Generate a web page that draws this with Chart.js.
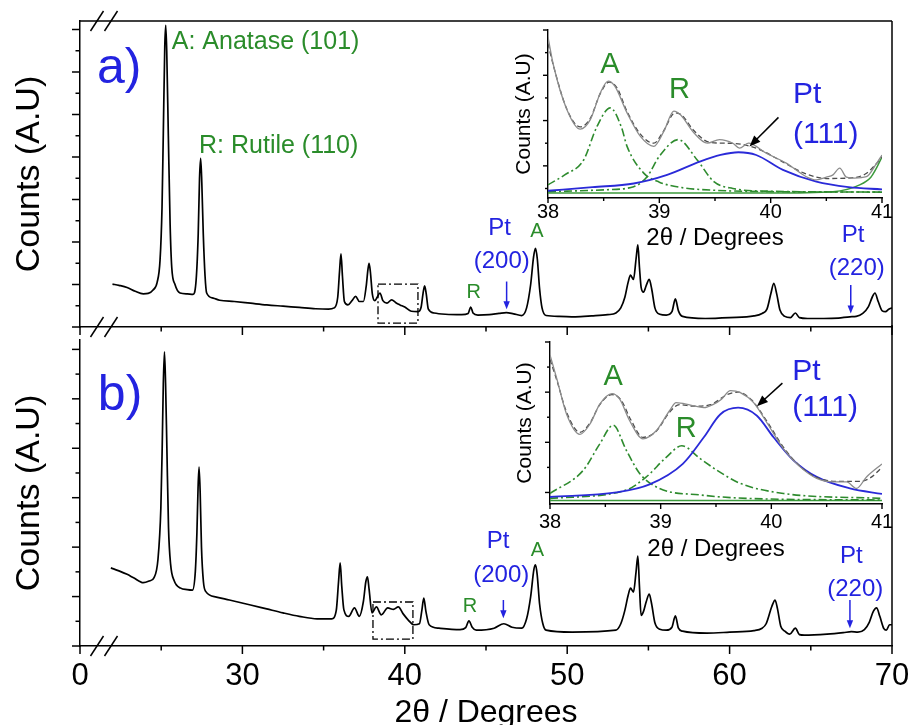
<!DOCTYPE html>
<html>
<head>
<meta charset="utf-8">
<script src="https://cdn.jsdelivr.net/npm/chart.js@4.4.1/dist/chart.umd.min.js"></script>
<style>
  body { margin: 0; background: #fff; }
  #wrap { position: relative; width: 918px; height: 725px; background: #fff; overflow: hidden; }
  #wrap canvas { position: absolute; }
</style>
</head>
<body>
<div id="wrap">
  <canvas id="mainA" width="918" height="345" style="left:0;top:0"></canvas>
  <canvas id="mainB" width="918" height="410" style="left:0;top:325px"></canvas>
  <canvas id="insetA" width="410" height="235" style="left:490px;top:22px"></canvas>
  <canvas id="insetB" width="410" height="235" style="left:490px;top:335px"></canvas>
</div>
<script>
const FONT = "'Liberation Sans', Arial, sans-serif";
const BLUE = '#2323e0';
const GREEN = '#2a8c2a';

// ---- tick values / labels
const mainMajorX = [20, 30, 40, 50, 60, 70];
const mainXTickLabels = ['0', '30', '40', '50', '60', '70'];
const mainMinorX = [25, 35, 45, 55, 65];
const mainMajorYA = [0, 1, 2, 3, 4, 5, 6, 7];
const mainMinorYA = [0.5, 1.5, 2.5, 3.5, 4.5, 5.5, 6.5];
const mainMajorYB = [0, 1, 2, 3, 4, 5, 6];
const mainMinorYB = [0.5, 1.5, 2.5, 3.5, 4.5, 5.5];
const insetMajorX = [38, 39, 40, 41];
const insetMinorX = [38.5, 39.5, 40.5];
const insetMajorY = [0, 1, 2, 3];
const insetMinorYA = [-0.5, 0.5, 1.5, 2.5];
const insetMinorYB = [0.5, 1.5, 2.5];

// ---- XRD pattern a)  [2theta, counts]
const patternA = [
  [22.0,1.01],[22.4,0.98],[22.9,0.93],[23.4,0.84],[23.9,0.78],[24.2,0.79],[24.5,0.87],[24.75,1.05],
  [24.93,1.58],[25.05,2.8],[25.13,4.56],[25.22,6.6],[25.28,7.1],[25.34,6.5],[25.44,4.5],[25.55,2.4],
  [25.65,1.4],[25.85,1.0],[26.16,0.8],[26.6,0.78],[26.96,0.77],[27.15,1.1],[27.28,2.2],[27.36,3.5],
  [27.43,3.97],[27.5,3.4],[27.59,2.2],[27.7,1.2],[27.8,0.8],[28.2,0.68],[28.6,0.63],[29.5,0.6],
  [30.5,0.56],[31.5,0.52],[32.5,0.49],[33.5,0.46],[34.5,0.43],[35.3,0.42],[35.65,0.45],[35.87,0.7],
  [35.98,1.3],[36.07,1.72],[36.16,1.2],[36.28,0.6],[36.5,0.52],[36.75,0.62],[36.97,0.72],[37.2,0.6],
  [37.45,0.6],[37.62,0.95],[37.73,1.35],[37.8,1.5],[37.88,1.3],[38.0,0.78],[38.15,0.62],[38.3,0.7],
  [38.47,0.8],[38.65,0.62],[38.9,0.56],[39.19,0.64],[39.45,0.57],[39.7,0.52],[40.0,0.47],[40.4,0.37],
  [40.8,0.36],[41.0,0.46],[41.12,0.78],[41.22,0.97],[41.32,0.78],[41.45,0.42],[41.8,0.33],[42.5,0.3],
  [43.5,0.29],[43.9,0.32],[44.06,0.47],[44.2,0.33],[44.5,0.28],[45.2,0.29],[45.8,0.32],[46.25,0.34],
  [46.7,0.31],[47.2,0.27],[47.5,0.45],[47.75,1.0],[47.93,1.65],[48.05,1.85],[48.16,1.6],[48.3,0.9],
  [48.45,0.45],[48.7,0.27],[49.5,0.25],[50.5,0.24],[51.5,0.26],[52.5,0.29],[53.0,0.33],[53.3,0.45],
  [53.55,0.7],[53.75,1.05],[53.9,1.22],[54.08,1.12],[54.24,1.6],[54.35,1.93],[54.45,1.4],[54.55,0.94],
  [54.7,0.82],[54.87,0.98],[55.05,1.12],[55.2,0.9],[55.4,0.45],[55.7,0.3],[56.1,0.28],[56.45,0.36],
  [56.66,0.66],[56.85,0.38],[57.1,0.25],[58.5,0.2],[60.0,0.22],[61.5,0.26],[62.0,0.32],[62.3,0.42],
  [62.55,0.8],[62.72,1.03],[62.9,0.78],[63.1,0.4],[63.4,0.25],[63.75,0.22],[64.05,0.33],[64.3,0.22],
  [64.8,0.2],[65.8,0.2],[66.7,0.21],[67.4,0.24],[67.8,0.25],[68.2,0.32],[68.55,0.48],[68.78,0.7],
  [68.95,0.8],[69.15,0.6],[69.4,0.38],[69.6,0.36],[69.8,0.42],[70.0,0.45]
];

// ---- XRD pattern b)
const patternB = [
  [21.9,1.58],[22.4,1.52],[22.9,1.45],[23.3,1.38],[23.9,1.28],[24.3,1.32],[24.55,1.38],[24.8,1.75],
  [24.98,2.8],[25.06,4.0],[25.13,5.3],[25.2,5.95],[25.27,5.3],[25.35,4.0],[25.45,2.4],[25.58,1.65],
  [25.8,1.32],[26.2,1.17],[26.6,1.14],[26.92,1.13],[27.1,1.5],[27.2,2.3],[27.27,3.2],[27.33,3.62],
  [27.4,3.1],[27.48,2.0],[27.6,1.3],[27.75,1.1],[28.4,0.99],[29.2,0.93],[30.5,0.83],[31.5,0.75],
  [32.5,0.67],[33.5,0.6],[34.6,0.55],[35.5,0.55],[35.78,0.72],[35.92,1.3],[36.02,1.68],[36.12,1.2],
  [36.25,0.73],[36.55,0.6],[36.9,0.77],[37.2,0.6],[37.45,0.9],[37.6,1.3],[37.7,1.4],[37.8,1.15],
  [37.98,0.67],[38.25,0.79],[38.55,0.63],[38.95,0.77],[39.3,0.74],[39.6,0.79],[39.9,0.65],[40.2,0.53],
  [40.55,0.43],[40.9,0.45],[41.05,0.72],[41.17,0.97],[41.3,0.7],[41.5,0.43],[42.1,0.36],[43.4,0.33],
  [43.75,0.37],[43.95,0.51],[44.15,0.38],[44.4,0.32],[45.5,0.36],[46.1,0.45],[46.6,0.38],[47.2,0.36],
  [47.5,0.55],[47.75,1.0],[47.95,1.55],[48.05,1.64],[48.15,1.45],[48.3,0.85],[48.5,0.45],[48.7,0.32],
  [50.3,0.28],[53.0,0.32],[53.3,0.45],[53.55,0.72],[53.75,1.02],[53.9,1.17],[54.08,1.09],[54.24,1.5],
  [54.35,1.82],[54.45,1.2],[54.55,0.62],[54.7,0.7],[54.87,0.9],[55.05,1.05],[55.2,0.85],[55.4,0.47],
  [55.7,0.34],[56.1,0.32],[56.45,0.38],[56.66,0.61],[56.85,0.36],[57.1,0.3],[58.6,0.26],[60.0,0.28],
  [61.5,0.31],[62.0,0.36],[62.25,0.45],[62.6,0.8],[62.8,0.93],[62.95,0.75],[63.15,0.4],[63.4,0.3],
  [63.7,0.24],[64.05,0.36],[64.3,0.23],[64.6,0.22],[66.0,0.24],[67.0,0.27],[67.5,0.29],[67.9,0.28],
  [68.3,0.33],[68.6,0.48],[68.85,0.7],[69.05,0.77],[69.25,0.6],[69.5,0.35],[69.65,0.32],[69.85,0.43],
  [70.0,0.43]
];

// ---- inset a) 38-41 deg fit
const insetAMeas = [
  [38.0,2.84],[38.05,2.21],[38.17,1.24],[38.29,0.81],[38.38,1.02],[38.47,1.61],[38.54,1.87],[38.6,1.76],
  [38.71,1.17],[38.83,0.65],[38.95,0.43],[39.04,0.76],[39.13,1.21],[39.19,1.13],[39.31,0.73],[39.43,0.5],
  [39.54,0.58],[39.66,0.5],[39.72,0.39],[39.8,0.5],[39.96,0.28],[40.14,0.06],[40.32,-0.24],[40.41,-0.31],
  [40.5,-0.25],[40.56,-0.2],[40.62,-0.05],[40.68,-0.25],[40.75,-0.27],[40.86,-0.24],[40.95,0.05],[41.0,0.24]
];
const insetAFit = [
  [38.0,2.7],[38.05,2.2],[38.17,1.25],[38.29,0.86],[38.38,1.05],[38.47,1.6],[38.55,1.85],[38.62,1.72],
  [38.71,1.2],[38.83,0.7],[38.95,0.5],[39.04,0.78],[39.14,1.17],[39.2,1.12],[39.31,0.78],[39.45,0.52],
  [39.6,0.5],[39.75,0.47],[39.9,0.36],[40.1,0.1],[40.3,-0.16],[40.5,-0.28],[40.7,-0.27],[40.85,-0.18],
  [40.95,0.05],[41.0,0.2]
];
const insetAAnatase = [
  [38.0,-0.42],[38.15,-0.2],[38.32,0.13],[38.44,0.87],[38.56,1.28],[38.66,0.85],[38.71,0.43],[38.86,-0.16],
  [39.0,-0.36],[39.2,-0.48],[39.5,-0.54],[40.0,-0.57],[41.0,-0.58]
];
const insetARutile = [
  [38.0,-0.57],[38.5,-0.53],[38.77,-0.46],[38.89,-0.24],[39.0,0.21],[39.17,0.58],[39.34,0.13],[39.49,-0.35],
  [39.66,-0.5],[40.0,-0.56],[41.0,-0.58]
];
const insetAPt = [
  [38.0,-0.55],[38.4,-0.47],[38.77,-0.39],[39.07,-0.2],[39.37,0.1],[39.55,0.24],[39.71,0.3],[39.87,0.24],
  [40.11,-0.09],[40.41,-0.35],[40.7,-0.47],[41.0,-0.52]
];
const insetABase = [
  [38.0,-0.6],[39.0,-0.6],[40.0,-0.6],[40.56,-0.57],[40.8,-0.42],[40.9,-0.25],[40.95,-0.05],[41.0,0.2]
];

// ---- inset b)
const insetBMeas = [
  [38.0,2.74],[38.06,2.28],[38.15,1.56],[38.27,1.16],[38.36,1.36],[38.45,1.76],[38.56,1.97],[38.63,1.86],
  [38.72,1.43],[38.84,1.07],[38.96,1.23],[39.08,1.63],[39.14,1.79],[39.27,1.74],[39.39,1.69],[39.48,1.76],
  [39.55,1.86],[39.63,2.03],[39.72,1.99],[39.84,1.79],[39.96,1.39],[40.11,0.87],[40.26,0.51],[40.41,0.28],
  [40.56,0.21],[40.68,0.21],[40.77,0.08],[40.86,0.31],[41.0,0.57]
];
const insetBFit = [
  [38.0,2.65],[38.06,2.25],[38.15,1.6],[38.27,1.2],[38.36,1.38],[38.45,1.75],[38.56,1.95],[38.64,1.85],
  [38.73,1.45],[38.84,1.1],[38.96,1.22],[39.08,1.6],[39.17,1.75],[39.3,1.72],[39.45,1.75],[39.6,1.95],
  [39.7,2.0],[39.82,1.85],[39.96,1.42],[40.11,0.9],[40.26,0.52],[40.41,0.3],[40.6,0.22],[40.8,0.22],
  [40.9,0.3],[41.0,0.5]
];
const insetBAnatase = [
  [38.0,-0.02],[38.3,0.44],[38.45,0.97],[38.57,1.34],[38.69,0.84],[38.81,0.38],[38.99,0.08],[39.36,-0.05],
  [39.8,-0.12],[41.0,-0.15]
];
const insetBRutile = [
  [38.0,-0.12],[38.69,0.05],[38.87,0.31],[39.05,0.7],[39.19,0.93],[39.36,0.67],[39.51,0.44],[39.72,0.18],
  [40.11,-0.02],[41.0,-0.12]
];
const insetBPt = [
  [38.0,-0.09],[38.6,0.0],[38.9,0.16],[39.2,0.57],[39.39,1.1],[39.54,1.56],[39.7,1.69],[39.87,1.53],
  [40.02,1.1],[40.2,0.64],[40.41,0.31],[40.71,0.08],[41.0,-0.03]
];
const insetBBase = [[38.0,-0.16],[41.0,-0.16]];

// ---- annotations (data coordinates)
const labelsA = [
  { text: 'a)', x: 21.05, y: 5.74, size: 50, color: BLUE, align: 'left' },
  { text: 'A: Anatase (101)', x: 25.65, y: 6.53, size: 25, color: GREEN, align: 'left' },
  { text: 'R: Rutile (110)', x: 27.33, y: 4.09, size: 25, color: GREEN, align: 'left' },
  { text: 'R', x: 44.24, y: 0.68, size: 20, color: GREEN, align: 'center' },
  { text: 'Pt', x: 45.84, y: 2.16, size: 24, color: BLUE, align: 'center' },
  { text: '(200)', x: 45.97, y: 1.38, size: 24, color: BLUE, align: 'center' },
  { text: 'A', x: 48.14, y: 2.12, size: 20, color: GREEN, align: 'center' },
  { text: 'Pt', x: 67.6, y: 2.01, size: 24, color: BLUE, align: 'center' },
  { text: '(220)', x: 67.83, y: 1.22, size: 24, color: BLUE, align: 'center' }
];
const arrowsA = [
  { x1: 46.27, y1: 1.07, x2: 46.27, y2: 0.42, color: BLUE },
  { x1: 67.46, y1: 0.99, x2: 67.46, y2: 0.32, color: BLUE }
];
const boxA = { x1: 38.35, x2: 40.81, y1: 0.09, y2: 1.01 };

const labelsB = [
  { text: 'b)', x: 21.1, y: 4.78, size: 50, color: BLUE, align: 'left' },
  { text: 'R', x: 44.01, y: 0.69, size: 20, color: GREEN, align: 'center' },
  { text: 'Pt', x: 45.74, y: 1.98, size: 24, color: BLUE, align: 'center' },
  { text: '(200)', x: 45.94, y: 1.3, size: 24, color: BLUE, align: 'center' },
  { text: 'A', x: 48.16, y: 1.82, size: 20, color: GREEN, align: 'center' },
  { text: 'Pt', x: 67.5, y: 1.67, size: 24, color: BLUE, align: 'center' },
  { text: '(220)', x: 67.74, y: 1.02, size: 24, color: BLUE, align: 'center' }
];
const arrowsB = [
  { x1: 46.07, y1: 0.93, x2: 46.07, y2: 0.56, color: BLUE },
  { x1: 67.41, y1: 0.93, x2: 67.41, y2: 0.36, color: BLUE }
];
const boxB = { x1: 38.04, x2: 40.5, y1: 0.14, y2: 0.89 };

const labelsInsetA = [
  { text: 'A', x: 38.557, y: 2.06, size: 29, color: GREEN, align: 'center' },
  { text: 'R', x: 39.18, y: 1.5, size: 29, color: GREEN, align: 'center' },
  { text: 'Pt', x: 40.2, y: 1.39, size: 30, color: BLUE, align: 'left' },
  { text: '(111)', x: 40.2, y: 0.51, size: 30, color: BLUE, align: 'left' }
];
const arrowsInsetA = [{ x1: 40.07, y1: 1.07, x2: 39.81, y2: 0.43, color: '#000' }];

const labelsInsetB = [
  { text: 'A', x: 38.57, y: 2.15, size: 29, color: GREEN, align: 'center' },
  { text: 'R', x: 39.23, y: 1.1, size: 29, color: GREEN, align: 'center' },
  { text: 'Pt', x: 40.19, y: 2.25, size: 30, color: BLUE, align: 'left' },
  { text: '(111)', x: 40.19, y: 1.53, size: 30, color: BLUE, align: 'left' }
];
const arrowsInsetB = [{ x1: 40.1, y1: 2.18, x2: 39.87, y2: 1.72, color: '#000' }];


function pts(arr) {
  return arr.map(([x, y]) => ({ x, y }));
}

function drawArrow(ctx, x1, y1, x2, y2, color, head) {
  const a = Math.atan2(y2 - y1, x2 - x1);
  ctx.strokeStyle = color;
  ctx.fillStyle = color;
  ctx.beginPath();
  ctx.moveTo(x1, y1);
  ctx.lineTo(x2 - Math.cos(a) * head * 0.6, y2 - Math.sin(a) * head * 0.6);
  ctx.stroke();
  const w = head * 0.4;
  ctx.beginPath();
  ctx.moveTo(x2, y2);
  ctx.lineTo(x2 - head * Math.cos(a) + w * Math.sin(a), y2 - head * Math.sin(a) - w * Math.cos(a));
  ctx.lineTo(x2 - head * Math.cos(a) - w * Math.sin(a), y2 - head * Math.sin(a) + w * Math.cos(a));
  ctx.closePath();
  ctx.fill();
}

// ticks, frame, axis breaks, labels and arrows
const decor = {
  id: 'decor',
  afterDatasetsDraw(chart, args, o) {
    const { ctx, chartArea: ca, scales: { x, y } } = chart;
    const seg = (x1, y1, x2, y2) => {
      ctx.beginPath(); ctx.moveTo(x1, y1); ctx.lineTo(x2, y2); ctx.stroke();
    };
    ctx.save();
    ctx.strokeStyle = '#000';
    ctx.lineWidth = o.lineWidth;

    x.ticks.forEach(t => { const p = x.getPixelForValue(t.value); seg(p, ca.bottom, p, ca.bottom + o.major); });
    o.minorX.forEach(v => { const p = x.getPixelForValue(v); seg(p, ca.bottom, p, ca.bottom + o.minor); });
    y.ticks.forEach(t => { const p = y.getPixelForValue(t.value); seg(ca.left, p, ca.left - o.major, p); });
    o.minorY.forEach(v => { const p = y.getPixelForValue(v); seg(ca.left, p, ca.left - o.minor, p); });

    if (o.frameTop) seg(ca.left, ca.top, ca.right, ca.top);
    if (o.frameRight) seg(ca.right, o.rightFromTop ? 0 : ca.top, ca.right, ca.bottom);

    (o.breaks || []).forEach(edge => {
      const py = edge === 'top' ? ca.top : ca.bottom;
      [17, 31].forEach(dx => seg(ca.left + dx - 6.5, py + 10, ca.left + dx + 6.5, py - 10));
    });

    if (o.box) {
      ctx.lineWidth = 1.3;
      ctx.setLineDash([8, 3, 2, 3]);
      const bx = x.getPixelForValue(o.box.x1), bx2 = x.getPixelForValue(o.box.x2);
      const by = y.getPixelForValue(o.box.y2), by2 = y.getPixelForValue(o.box.y1);
      ctx.strokeRect(bx, by, bx2 - bx, by2 - by);
      ctx.setLineDash([]);
    }

    ctx.lineWidth = 1.5;
    (o.arrows || []).forEach(a => {
      drawArrow(ctx, x.getPixelForValue(a.x1), y.getPixelForValue(a.y1),
        x.getPixelForValue(a.x2), y.getPixelForValue(a.y2), a.color, o.head);
    });

    ctx.textBaseline = 'alphabetic';
    (o.labels || []).forEach(l => {
      ctx.font = l.size + 'px ' + FONT;
      ctx.fillStyle = l.color;
      ctx.textAlign = l.align;
      ctx.fillText(l.text, x.getPixelForValue(l.x), y.getPixelForValue(l.y));
    });
    ctx.restore();
  }
};

function mainChart(id, pattern, cfg) {
  return new Chart(document.getElementById(id), {
    type: 'line',
    data: {
      datasets: [{
        data: pts(pattern),
        borderColor: '#000',
        borderWidth: 1.7,
        pointRadius: 0,
        cubicInterpolationMode: 'monotone',
        fill: false
      }]
    },
    options: {
      responsive: false,
      animation: false,
      devicePixelRatio: 1,
      layout: { padding: { left: 0, right: 26, top: cfg.top, bottom: 0 } },
      plugins: {
        legend: { display: false },
        tooltip: { enabled: false },
        decor: {
          lineWidth: 1.5, major: 8, minor: 4.5,
          minorX: mainMinorX, minorY: cfg.minorY,
          frameTop: cfg.frameTop, frameRight: true, rightFromTop: cfg.rightFromTop,
          breaks: cfg.breaks, box: cfg.box, arrows: cfg.arrows, labels: cfg.labels, head: 8
        }
      },
      scales: {
        x: {
          type: 'linear', min: 20, max: 70,
          afterBuildTicks: s => { s.ticks = mainMajorX.map(v => ({ value: v })); },
          ticks: {
            display: cfg.showX, autoSkip: false, maxRotation: 0, padding: 6.5, color: '#000',
            font: { family: FONT, size: 31, lineHeight: 1 },
            callback: (v, i) => mainXTickLabels[i]
          },
          grid: { display: false },
          border: { display: true, color: '#000', width: 1.5 },
          title: {
            display: cfg.showX, text: '2\u03b8 / Degrees', color: '#000',
            font: { family: FONT, size: 32 }, padding: { top: 0, bottom: 3 }
          },
          afterFit: s => { s.height = cfg.xHeight; }
        },
        y: {
          min: 0, max: cfg.yMax,
          afterBuildTicks: s => { s.ticks = cfg.majorY.map(v => ({ value: v })); },
          ticks: { display: false },
          grid: { display: false },
          border: { display: true, color: '#000', width: 1.5 },
          title: {
            display: true, text: 'Counts (A.U)', color: '#000',
            font: { family: FONT, size: 34 }, padding: { top: 9, bottom: 0 }
          },
          afterFit: s => { s.width = 80; }
        }
      }
    },
    plugins: [decor]
  });
}

function insetChart(id, series, cfg) {
  const dashDot = [8, 3, 2, 3];
  return new Chart(document.getElementById(id), {
    type: 'line',
    data: {
      datasets: [
        { data: pts(series.meas), borderColor: '#8c8c8c', borderWidth: 1.3 },
        { data: pts(series.fit), borderColor: '#4d4d4d', borderWidth: 1.3, borderDash: [5, 3] },
        { data: pts(series.pt), borderColor: '#2a2ad8', borderWidth: 1.8 },
        { data: pts(series.anatase), borderColor: '#2e8b2e', borderWidth: 1.6, borderDash: dashDot },
        { data: pts(series.rutile), borderColor: '#2e8b2e', borderWidth: 1.6, borderDash: dashDot },
        { data: pts(series.base), borderColor: '#3c9a3c', borderWidth: 1.5 }
      ].map(d => Object.assign(d, { pointRadius: 0, cubicInterpolationMode: 'monotone', fill: false }))
    },
    options: {
      responsive: false,
      animation: false,
      devicePixelRatio: 1,
      layout: { padding: { left: 0, right: 18, top: cfg.top, bottom: 0 } },
      plugins: {
        legend: { display: false },
        tooltip: { enabled: false },
        decor: {
          lineWidth: 1.4, major: 5, minor: 3,
          minorX: insetMinorX, minorY: cfg.minorY,
          arrows: cfg.arrows, labels: cfg.labels, head: 11
        }
      },
      scales: {
        x: {
          type: 'linear', min: 38, max: 41,
          afterBuildTicks: s => { s.ticks = insetMajorX.map(v => ({ value: v })); },
          ticks: {
            autoSkip: false, maxRotation: 0, padding: cfg.tickPad, color: '#000',
            font: { family: FONT, size: 20, lineHeight: 1 },
            callback: v => String(v)
          },
          grid: { display: false },
          border: { display: true, color: '#000', width: 1.4 },
          title: {
            display: true, text: '2\u03b8 / Degrees', color: '#000',
            font: { family: FONT, size: 24 }, padding: { top: 0, bottom: cfg.titlePad }
          },
          afterFit: s => { s.height = cfg.xHeight; }
        },
        y: {
          min: cfg.yMin, max: 3,
          afterBuildTicks: s => { s.ticks = insetMajorY.map(v => ({ value: v })); },
          ticks: { display: false },
          grid: { display: false },
          border: { display: true, color: '#000', width: 1.4 },
          title: {
            display: true, text: 'Counts (A.U)', color: '#000',
            font: { family: FONT, size: 21 }, padding: { top: cfg.yTitlePad, bottom: 0 }
          },
          afterFit: s => { s.width = cfg.yWidth; }
        }
      }
    },
    plugins: [decor]
  });
}

mainChart('mainA', patternA, {
  top: 21, xHeight: 18, yMax: 7.2, majorY: mainMajorYA, minorY: mainMinorYA,
  showX: false, frameTop: true, rightFromTop: false, breaks: ['top', 'bottom'],
  box: boxA, arrows: arrowsA, labels: labelsA
});

mainChart('mainB', patternB, {
  top: 15, xHeight: 89, yMax: 6.19, majorY: mainMajorYB, minorY: mainMinorYB,
  showX: true, frameTop: false, rightFromTop: true, breaks: ['bottom'],
  box: boxB, arrows: arrowsB, labels: labelsB
});

insetChart('insetA', {
  meas: insetAMeas, fit: insetAFit, pt: insetAPt,
  anatase: insetAAnatase, rutile: insetARutile, base: insetABase
}, {
  top: 8, xHeight: 59, yWidth: 58, yMin: -0.71, minorY: insetMinorYA,
  tickPad: -4, titlePad: 3.9, yTitlePad: 21.4, arrows: arrowsInsetA, labels: labelsInsetA
});

insetChart('insetB', {
  meas: insetBMeas, fit: insetBFit, pt: insetBPt,
  anatase: insetBAnatase, rutile: insetBRutile, base: insetBBase
}, {
  top: 7, xHeight: 66, yWidth: 60, yMin: -0.23, minorY: insetMinorYB,
  tickPad: 0, titlePad: 5.9, yTitlePad: 22.4, arrows: arrowsInsetB, labels: labelsInsetB
});
</script>
</body>
</html>
